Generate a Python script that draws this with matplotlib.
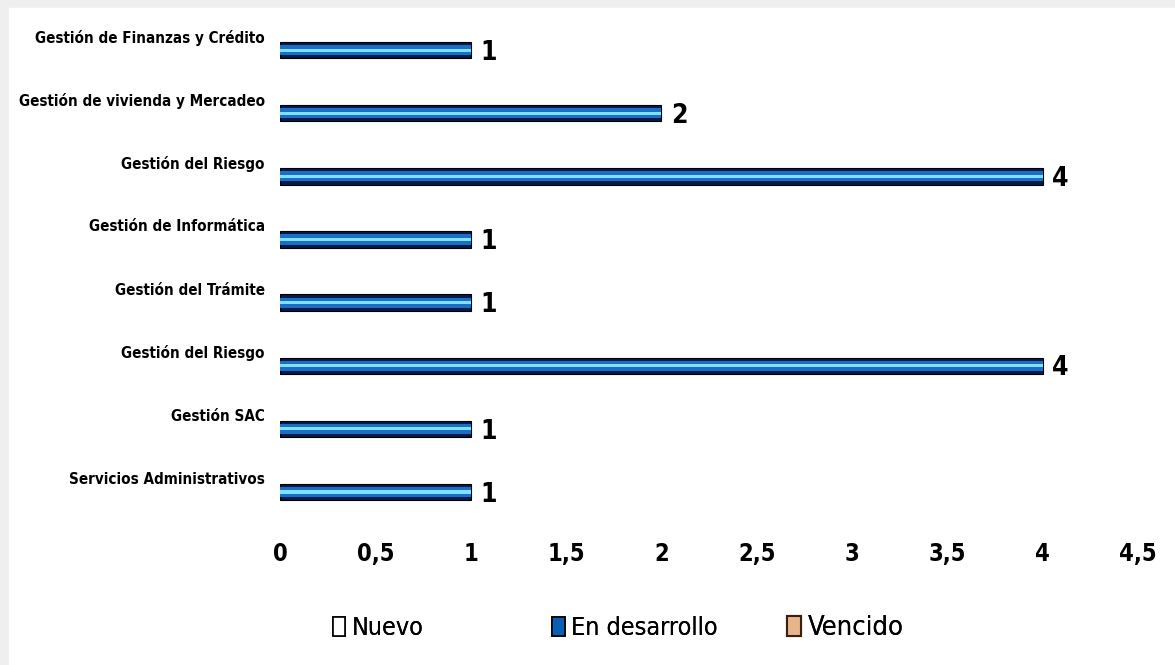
import matplotlib
matplotlib.use("Agg")
from matplotlib import pyplot as plt
from matplotlib.patches import Rectangle, Patch

plt.rcParams['font.family'] = ['DejaVu Sans']
plt.rcParams['font.stretch'] = 'condensed'

# categories, bottom to top
categorias = [
    "Servicios Administrativos",
    "Gestión SAC",
    "Gestión del Riesgo",
    "Gestión del Trámite",
    "Gestión de Informática",
    "Gestión del Riesgo",
    "Gestión de vivienda y Mercadeo",
    "Gestión de Finanzas y Crédito",
]
en_desarrollo = [1, 1, 4, 1, 1, 4, 2, 1]
ticks_x = [0, 0.5, 1, 1.5, 2, 2.5, 3, 3.5, 4, 4.5]
tick_labels_x = ["0", "0,5", "1", "1,5", "2", "2,5", "3", "3,5", "4", "4,5"]
leyenda = ["Nuevo", "En desarrollo", "Vencido"]

fig = plt.figure(figsize=(11.75, 6.65), dpi=100)
# light grey frame on top/left
fig.patches.append(Rectangle((0, 0), 1, 1, transform=fig.transFigure,
                             color='#efefef', zorder=-10))
fig.patches.append(Rectangle((9 / 1175, 0), 1, 1 - 8 / 665,
                             transform=fig.transFigure, color='white', zorder=-9))

ax = fig.add_axes([0.2383, 0.2128, 0.9685 - 0.2383, 0.972 - 0.2128])
ax.set_facecolor('none')

y = list(range(len(categorias)))
ax.barh(y, en_desarrollo, height=0.26, color='#041a4a', edgecolor='black', linewidth=0.8)
ax.barh(y, en_desarrollo, height=0.16, color='#1a6fc4', linewidth=0)
ax.barh(y, en_desarrollo, height=0.05, color='#7fe0ff', linewidth=0)

for yi, v in zip(y, en_desarrollo):
    ax.annotate(str(v), (v, yi), xytext=(7, -2), textcoords='offset points',
                va='center', ha='left', fontsize=19, fontweight='bold')

# category labels sit a little above their bars
for yi, c in zip(y, categorias):
    ax.annotate(c, (0, yi), xycoords=('axes fraction', 'data'), xytext=(-11, 9),
                textcoords='offset points', va='center', ha='right',
                fontsize=10.9, fontweight='bold')

ax.set_xlim(0, 4.5)
ax.set_ylim(-0.5, len(categorias) - 0.5)
ax.set_xticks(ticks_x)
ax.set_xticklabels(tick_labels_x, fontsize=17, fontweight='bold')
ax.set_yticks([])
ax.tick_params(axis='both', length=0)
ax.tick_params(axis='x', pad=13)
for s in ax.spines.values():
    s.set_visible(False)

handles = [
    Patch(facecolor='white', edgecolor='black', linewidth=1.2),
    Patch(facecolor='#0a5fb5', edgecolor='black', linewidth=1.2),
    Patch(facecolor='#e8b48a', edgecolor='#3a2010', linewidth=1.5),
]
legend_x = [0.283, 0.470, 0.670]
legend_size = [18, 18, 19.5]
for h, lab, lx, fs in zip(handles, leyenda, legend_x, legend_size):
    leg = fig.legend([h], [lab], loc='center left', bbox_to_anchor=(lx, 0.055),
                     frameon=False, fontsize=fs, handlelength=0.5, handleheight=0.8,
                     handletextpad=0.25, borderpad=0, borderaxespad=0)
    fig.add_artist(leg)

fig.savefig('out.png', dpi=100)
